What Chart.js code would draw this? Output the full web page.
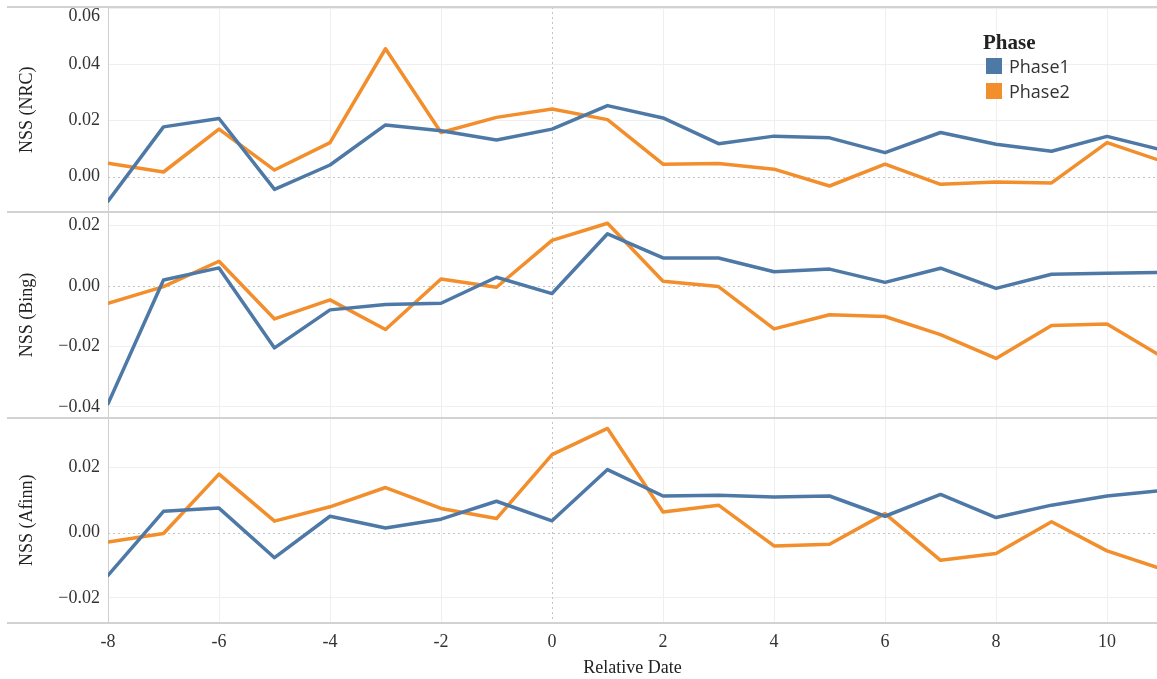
<!DOCTYPE html>
<html>
<head>
<meta charset="utf-8">
<script src="https://cdn.jsdelivr.net/npm/chart.js@4.4.1/dist/chart.umd.min.js"></script>
<style>
  html, body { margin: 0; padding: 0; background: #fff; }
  #wrap { position: relative; width: 1157px; height: 679px; }
  canvas { display: block; }
  #legend { position: absolute; left: 983px; top: 30px; font-family: "Liberation Serif", serif; }
  #legend .title { font-size: 21px; font-weight: bold; color: #222; line-height: 24px; margin-bottom: 0px; }
  #legend .item { display: flex; align-items: center; height: 24.5px; font-family: "Open Sans", "Noto Sans", sans-serif; font-size: 18px; color: #333; }
  #legend .sw { width: 16px; height: 16px; margin-left: 3px; margin-right: 7px; }
</style>
</head>
<body>
<div id="wrap">
  <canvas id="c" width="1157" height="679"></canvas>
  <div id="legend"></div>
</div>
<script>
// ---- data ----
const relativeDates = [-8, -7, -6, -5, -4, -3, -2, -1, 0, 1, 2, 3, 4, 5, 6, 7, 8, 9, 10, 11];
const seriesNames = ['Phase1', 'Phase2'];

const nrcPhase1 = [-0.0087, 0.0178, 0.0208, -0.0045, 0.0042, 0.0185, 0.0164, 0.0131, 0.0170, 0.0254, 0.0210, 0.0118, 0.0145, 0.0139, 0.0086, 0.0158, 0.0116, 0.0091, 0.0144, 0.0095];
const nrcPhase2 = [0.0048, 0.0017, 0.0170, 0.0024, 0.0122, 0.0457, 0.0158, 0.0212, 0.0242, 0.0204, 0.0045, 0.0047, 0.0027, -0.0033, 0.0045, -0.0027, -0.0019, -0.0022, 0.0122, 0.0055];

const bingPhase1 = [-0.0390, 0.0020, 0.0060, -0.0205, -0.0079, -0.0061, -0.0057, 0.0029, -0.0025, 0.0173, 0.0093, 0.0093, 0.0047, 0.0056, 0.0012, 0.0059, -0.0008, 0.0039, 0.0042, 0.0045];
const bingPhase2 = [-0.0057, -0.0002, 0.0082, -0.0109, -0.0046, -0.0144, 0.0023, -0.0004, 0.0151, 0.0208, 0.0016, -0.0002, -0.0142, -0.0095, -0.0101, -0.0161, -0.0240, -0.0131, -0.0126, -0.0235];

const afinnPhase1 = [-0.0131, 0.0065, 0.0075, -0.0077, 0.0050, 0.0014, 0.0041, 0.0096, 0.0036, 0.0193, 0.0112, 0.0114, 0.0109, 0.0112, 0.0050, 0.0117, 0.0046, 0.0084, 0.0112, 0.0129];
const afinnPhase2 = [-0.0029, -0.0003, 0.0179, 0.0035, 0.0079, 0.0138, 0.0074, 0.0043, 0.0239, 0.0319, 0.0063, 0.0084, -0.0041, -0.0036, 0.0058, -0.0085, -0.0064, 0.0033, -0.0056, -0.0112];

const xTicks = [-8, -6, -4, -2, 0, 2, 4, 6, 8, 10];
const ticksNRC = [0, 0.02, 0.04, 0.06];
const ticksBing = [-0.04, -0.02, 0, 0.02];
const ticksAfinn = [-0.02, 0, 0.02];

const panelTitles = ['NSS (NRC)', 'NSS (Bing)', 'NSS (Afinn)'];
const xTitle = 'Relative Date';
const legendTitle = 'Phase';

// ---- styles ----
const colors = ['#4e79a7', '#f28e2b'];
const serif = '"Liberation Serif", "Times New Roman", serif';
const gridColor = '#efefef';

function pts(vals) { return relativeDates.map((d, i) => ({ x: d, y: vals[i] })); }

function ds(label, vals, color, axis) {
  return {
    label: label,
    data: pts(vals),
    borderColor: color,
    backgroundColor: color,
    borderWidth: 3.5,
    pointRadius: 0,
    pointHoverRadius: 0,
    tension: 0,
    yAxisID: axis,
    borderJoinStyle: 'round',
    borderCapStyle: 'round'
  };
}

function fmtY(v) {
  const s = Math.abs(v).toFixed(2);
  return (v < -1e-9 ? '\u2212' : '') + s;
}

function yAxis(title, ticks, min, max, weight) {
  return {
    type: 'linear',
    position: 'left',
    stack: 'nss',
    stackWeight: 1,
    weight: weight,
    min: min,
    max: max,
    afterBuildTicks: s => { s.ticks = ticks.map(v => ({ value: v })); },
    afterFit: s => { s.width = 108; s.paddingTop = 0; s.paddingBottom = 0; },
    ticks: {
      callback: v => fmtY(v),
      font: { family: serif, size: 18 },
      color: '#333',
      padding: 8
    },
    grid: {
      drawTicks: false,
      color: c => (c.tick && Math.abs(c.tick.value) < 1e-9) ? 'rgba(0,0,0,0)' : gridColor,
      lineWidth: 1
    },
    border: { display: true, color: '#cfcfcf', width: 1 },
    title: {
      display: true,
      text: title,
      font: { family: serif, size: 18 },
      color: '#222',
      padding: { top: 16, bottom: 0 }
    }
  };
}

const yIds = ['yNRC', 'yBing', 'yAfinn'];

// plugin: keep top tick labels inside their panel, panel separators, dotted zero lines
const decor = {
  id: 'decor',
  beforeDraw(chart) {
    yIds.forEach(id => {
      const s = chart.scales[id];
      const items = s.getLabelItems ? s.getLabelItems() : null;
      if (!items) return;
      items.forEach(it => {
        const tr = it.options && it.options.translation;
        if (tr && tr[1] < s.top + 9) tr[1] = s.top + 9;
      });
    });
  },
  beforeDatasetsDraw(chart) {
    const ctx = chart.ctx;
    const ca = chart.chartArea;
    const xs = chart.scales.x;
    ctx.save();
    ctx.strokeStyle = '#c4c4c4';
    ctx.lineWidth = 1;
    ctx.setLineDash([2, 3]);
    yIds.forEach(id => {
      const s = chart.scales[id];
      const y = Math.round(s.getPixelForValue(0)) + 0.5;
      ctx.beginPath(); ctx.moveTo(ca.left, y); ctx.lineTo(ca.right, y); ctx.stroke();
    });
    const x0 = Math.round(xs.getPixelForValue(0)) + 0.5;
    ctx.beginPath(); ctx.moveTo(x0, ca.top); ctx.lineTo(x0, ca.bottom); ctx.stroke();
    ctx.restore();
  },
  afterDraw(chart) {
    const ctx = chart.ctx;
    const ca = chart.chartArea;
    ctx.save();
    ctx.strokeStyle = '#d2d2d2';
    ctx.lineWidth = 2;
    const edges = new Set();
    yIds.forEach(id => {
      const s = chart.scales[id];
      edges.add(Math.round(s.top));
      edges.add(Math.round(s.bottom));
    });
    edges.forEach(y => {
      ctx.beginPath(); ctx.moveTo(7, y); ctx.lineTo(ca.right, y); ctx.stroke();
    });
    ctx.restore();
  }
};

const chart = new Chart(document.getElementById('c'), {
  type: 'line',
  data: {
    datasets: [
      ds(seriesNames[0], nrcPhase1, colors[0], 'yNRC'),
      ds(seriesNames[1], nrcPhase2, colors[1], 'yNRC'),
      ds(seriesNames[0], bingPhase1, colors[0], 'yBing'),
      ds(seriesNames[1], bingPhase2, colors[1], 'yBing'),
      ds(seriesNames[0], afinnPhase1, colors[0], 'yAfinn'),
      ds(seriesNames[1], afinnPhase2, colors[1], 'yAfinn')
    ]
  },
  options: {
    responsive: false,
    animation: false,
    events: [],
    layout: { padding: { top: 7, left: 0, right: 0, bottom: 0 } },
    plugins: { legend: { display: false }, tooltip: { enabled: false } },
    scales: {
      x: {
        type: 'linear',
        min: -8,
        max: 10.9,
        afterBuildTicks: s => { s.ticks = xTicks.map(v => ({ value: v })); },
        afterFit: s => { s.height = 56; s.paddingLeft = 0; s.paddingRight = 0; },
        ticks: {
          font: { family: serif, size: 18 },
          color: '#333',
          padding: 8,
          maxRotation: 0
        },
        grid: {
          drawTicks: false,
          color: c => (c.tick && (c.tick.value === 0 || c.tick.value === -8)) ? 'rgba(0,0,0,0)' : gridColor
        },
        border: { display: false },
        title: {
          display: true,
          text: xTitle,
          font: { family: serif, size: 18 },
          color: '#222',
          padding: { top: 0, bottom: 0 }
        }
      },
      yAfinn: yAxis(panelTitles[2], ticksAfinn, -0.0277, 0.0352, 1),
      yBing: yAxis(panelTitles[1], ticksBing, -0.0436, 0.0244, 1),
      yNRC: yAxis(panelTitles[0], ticksNRC, -0.0127, 0.0606, 1)
    }
  },
  plugins: [decor]
});

// HTML legend
const lg = document.getElementById('legend');
const t = document.createElement('div');
t.className = 'title'; t.textContent = legendTitle; lg.appendChild(t);
seriesNames.forEach((n, i) => {
  const it = document.createElement('div'); it.className = 'item';
  const sw = document.createElement('span'); sw.className = 'sw'; sw.style.background = colors[i];
  const tx = document.createElement('span'); tx.textContent = n;
  it.appendChild(sw); it.appendChild(tx); lg.appendChild(it);
});
</script>
</body>
</html>
